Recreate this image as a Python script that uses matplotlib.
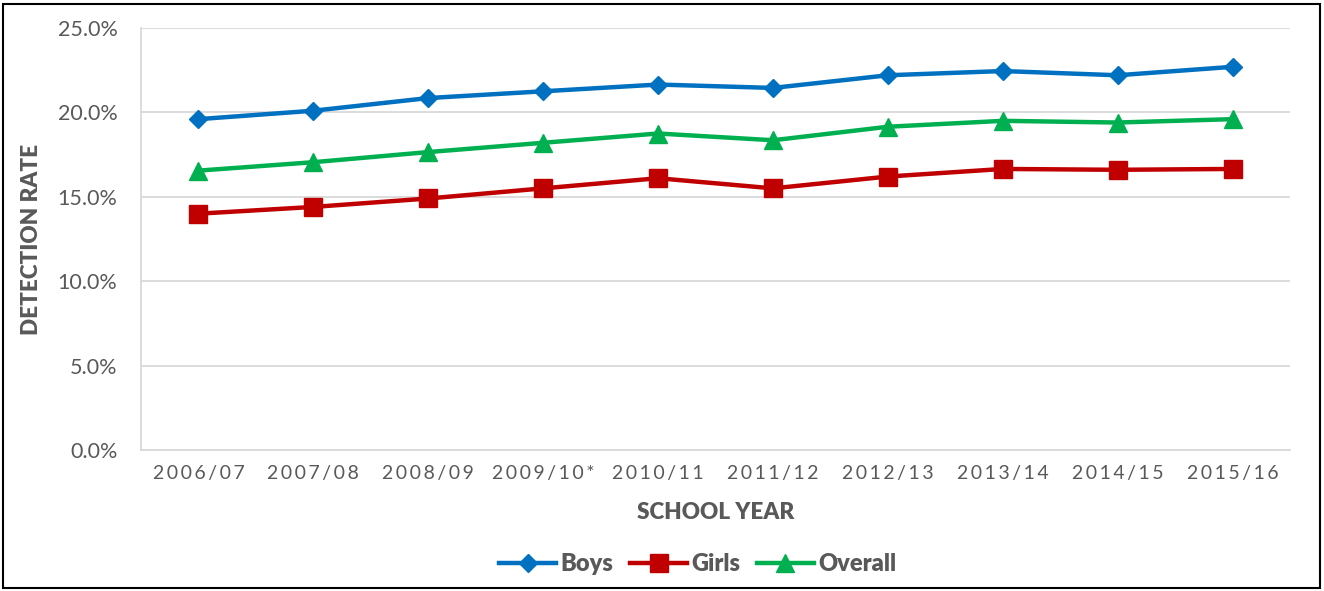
import matplotlib
matplotlib.use("Agg")
import matplotlib.pyplot as plt
from matplotlib.ticker import FuncFormatter, MultipleLocator
from matplotlib.patches import Rectangle

years = ["2006/07", "2007/08", "2008/09", "2009/10*", "2010/11",
         "2011/12", "2012/13", "2013/14", "2014/15", "2015/16"]
boys = [19.6, 20.1, 20.85, 21.25, 21.65, 21.45, 22.2, 22.45, 22.2, 22.7]
girls = [14.0, 14.4, 14.9, 15.5, 16.1, 15.5, 16.2, 16.65, 16.6, 16.65]
overall = [16.55, 17.05, 17.65, 18.2, 18.75, 18.35, 19.15, 19.5, 19.4, 19.6]

TXT = "#595959"
plt.rcParams['font.family'] = ['Lato', 'DejaVu Sans']

fig = plt.figure(figsize=(13.24, 5.91), dpi=100)
ax = fig.add_axes([141/1324, 1 - 450/591, (1290-141)/1324, (450-28)/591])

x = list(range(len(years)))
lb, = ax.plot(x, boys, color="#0070C0", lw=3.2, marker="D", ms=9.5, label="Boys", zorder=3)
lg, = ax.plot(x, girls, color="#C00000", lw=3.2, marker="s", ms=12.5, label="Girls", zorder=3)
lo, = ax.plot(x, overall, color="#00B050", lw=3.2, marker="^", ms=12.5, label="Overall", zorder=3)

ax.set_xlim(-0.5, len(years) - 0.5)
ax.set_ylim(0, 25)
ax.yaxis.set_major_locator(MultipleLocator(5))
ax.yaxis.set_major_formatter(FuncFormatter(lambda v, p: f"{v:.1f}%"))
ax.set_xticks(x)
ax.set_xticklabels(["\u2009".join(y) for y in years])
ax.grid(axis="y", color="#D9D9D9", lw=1.3)
ax.set_axisbelow(True)
for s in ["top", "right"]:
    ax.spines[s].set_visible(False)
ax.spines["left"].set_color("#D9D9D9")
ax.spines["left"].set_linewidth(1.3)
ax.spines["bottom"].set_color("#D9D9D9")
ax.spines["bottom"].set_linewidth(1.3)
ax.tick_params(axis="both", length=0, colors=TXT)
ax.tick_params(axis="y", labelsize=15.5, pad=17)
ax.tick_params(axis="x", labelsize=14, pad=11)

ax.set_ylabel("DETECTION RATE", fontsize=16.2, fontweight="heavy", color=TXT, labelpad=11)
ax.set_xlabel("SCHOOL YEAR", fontsize=16.2, fontweight="heavy", color=TXT, labelpad=14)

leg = fig.legend(handles=[lb, lg, lo], loc="center", bbox_to_anchor=(698/1324, 1 - 564/591),
                 ncol=3, frameon=False, fontsize=17, handlelength=2.4, columnspacing=0.7,
                 handletextpad=0.2)
for t in leg.get_texts():
    t.set_color(TXT)
    t.set_fontweight("heavy")

fig.patches.append(Rectangle((3/1324, 3/591), 1 - 7/1324, 1 - 7/591, transform=fig.transFigure,
                             fill=False, edgecolor="black", lw=1.5))
fig.savefig("out.png", dpi=100)
